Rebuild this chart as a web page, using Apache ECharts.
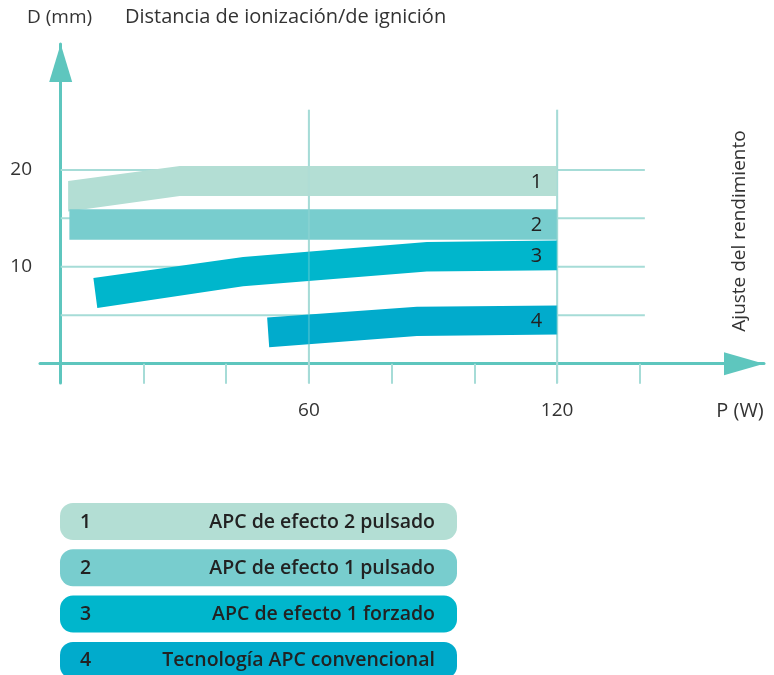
<!DOCTYPE html>
<html>
<head>
<meta charset="utf-8">
<script src="https://cdn.jsdelivr.net/npm/echarts@6/dist/echarts.min.js"></script>
<style>html,body{margin:0;padding:0;background:#fff}#c{width:774px;height:675px}</style>
</head>
<body>
<div id="c"></div>
<script>
// ---- data ----
const bandLabels = ['1', '2', '3', '4'];
const legendNames = ['APC de efecto 2 pulsado', 'APC de efecto 1 pulsado', 'APC de efecto 1 forzado', 'Tecnología APC convencional'];
const bandColors = ['#b3ded4', '#78cdce', '#00b6cc', '#01abcc'];
// upper / lower boundary points [P (W), D (mm)]
const band1Top = [[1.8, 18.85], [28.8, 20.4], [120, 20.4]];
const band1Bottom = [[1.8, 15.7], [28.8, 17.3], [120, 17.3]];
const band2Top = [[2.1, 15.95], [120, 15.95]];
const band2Bottom = [[2.1, 12.8], [120, 12.8]];
const band3Top = [[7.9, 8.85], [44.1, 11.0], [88.5, 12.55], [120, 12.7]];
const band3Bottom = [[8.85, 5.75], [44.1, 8.0], [88.5, 9.5], [120, 9.65]];
const band4Top = [[49.9, 4.75], [86.1, 5.87], [120, 6.0]];
const band4Bottom = [[50.4, 1.68], [86.1, 2.85], [120, 3.0]];
const xTickValues = [20, 40, 60, 80, 100, 120, 140];
const xLabelValues = [60, 120];
const yLabelValues = [10, 20];
const hGridValues = [5, 10, 15, 20];
const vGridValues = [60, 120];

const bands = [[band1Top, band1Bottom], [band2Top, band2Bottom], [band3Top, band3Bottom], [band4Top, band4Bottom]];
const FONT = 'Open Sans';
const axisColor = '#5ec6be';
const gridColor = '#a6dcd7';

const chart = echarts.init(document.getElementById('c'), null, {renderer: 'canvas'});

const series = [];
// horizontal grid lines
series.push({
  type: 'custom', coordinateSystem: 'cartesian2d', z: 1, silent: true,
  data: hGridValues.map(v => [0, v]),
  renderItem: (p, api) => {
    const a = api.coord([0, api.value(1)]), b = api.coord([141.2, api.value(1)]);
    return {type: 'line', shape: {x1: a[0], y1: a[1], x2: b[0], y2: b[1]}, style: {stroke: gridColor, lineWidth: 2}};
  }
});
// vertical grid lines (under and faint over bands)
[[1, 1], [5, 0.3]].forEach(([z, op]) => {
  series.push({
    type: 'custom', coordinateSystem: 'cartesian2d', z: z, silent: true,
    data: vGridValues.map(v => [v, 0]),
    renderItem: (p, api) => {
      const a = api.coord([api.value(0), -2]), b = api.coord([api.value(0), 26.2]);
      return {type: 'line', shape: {x1: a[0], y1: a[1], x2: b[0], y2: b[1]}, style: {stroke: gridColor, lineWidth: 2, opacity: op}};
    }
  });
});
// bands
bands.forEach((band, i) => {
  const top = band[0], bottom = band[1];
  series.push({
    type: 'custom', coordinateSystem: 'cartesian2d', z: 3, silent: true,
    data: top,
    renderItem: (p, api) => {
      if (p.dataIndex !== 0) return null;
      const pts = top.map(q => api.coord(q)).concat(bottom.slice().reverse().map(q => api.coord(q)));
      const lastT = top[top.length - 1], lastB = bottom[bottom.length - 1];
      const lp = api.coord([lastT[0], (lastT[1] + lastB[1]) / 2]);
      return {type: 'group', children: [
        {type: 'polygon', shape: {points: pts}, style: {fill: bandColors[i]}},
        {type: 'text', x: lp[0] - 15, y: lp[1] + 1, style: {text: bandLabels[i], fill: '#222', fontSize: 20, fontFamily: FONT, align: 'right', verticalAlign: 'middle'}}
      ]};
    }
  });
});

const graphics = [
  {type: 'text', left: 27, top: 8, style: {text: 'D (mm)', fill: '#333', fontSize: 19, fontFamily: FONT}},
  {type: 'text', left: 125, top: 7, style: {text: 'Distancia de ionización/de ignición', fill: '#333', fontSize: 20, fontFamily: FONT}},
  {type: 'text', x: 740, y: 231, rotation: Math.PI / 2, style: {text: 'Ajuste del rendimiento', fill: '#333', fontSize: 19, fontFamily: FONT, align: 'center', verticalAlign: 'middle'}},
  {type: 'text', x: 740, y: 411, style: {text: 'P (W)', fill: '#333', fontSize: 20, fontFamily: FONT, align: 'center', verticalAlign: 'middle'}}
];
legendNames.forEach((name, i) => {
  const y0 = 503 + i * 46.3;
  graphics.push({type: 'rect', shape: {x: 60, y: y0, width: 397, height: 37, r: 13}, style: {fill: bandColors[i]}});
  graphics.push({type: 'text', x: 80, y: y0 + 19, style: {text: bandLabels[i], fill: '#222', fontSize: 19.5, fontWeight: 600, fontFamily: FONT, verticalAlign: 'middle'}});
  graphics.push({type: 'text', x: 435, y: y0 + 19, style: {text: name, fill: '#222', fontSize: 19.5, fontWeight: 600, fontFamily: FONT, align: 'right', verticalAlign: 'middle'}});
});

chart.setOption({
  animation: false,
  grid: {left: 40, right: 10, top: 44, bottom: 292, containLabel: false, outerBoundsMode: 'none'},
  xAxis: {
    type: 'value', min: -5, max: 170,
    axisLine: {onZero: true, lineStyle: {color: axisColor, width: 3}, symbol: ['none', 'triangle'], symbolSize: [23, 40], symbolOffset: [0, -20]},
    axisTick: {show: true, customValues: xTickValues, length: 20, lineStyle: {color: gridColor, width: 2}},
    axisLabel: {customValues: xLabelValues, margin: 18, color: '#333', fontSize: 19, fontFamily: FONT},
    splitLine: {show: false}
  },
  yAxis: {
    type: 'value', min: -2, max: 33,
    axisLine: {onZero: true, lineStyle: {color: axisColor, width: 3}, symbol: ['none', 'triangle'], symbolSize: [23, 38], symbolOffset: [0, -19]},
    axisTick: {show: false},
    axisLabel: {customValues: yLabelValues, margin: 8, color: '#333', fontSize: 19, fontFamily: FONT},
    splitLine: {show: false}
  },
  series: series,
  graphic: graphics
});
</script>
</body>
</html>
